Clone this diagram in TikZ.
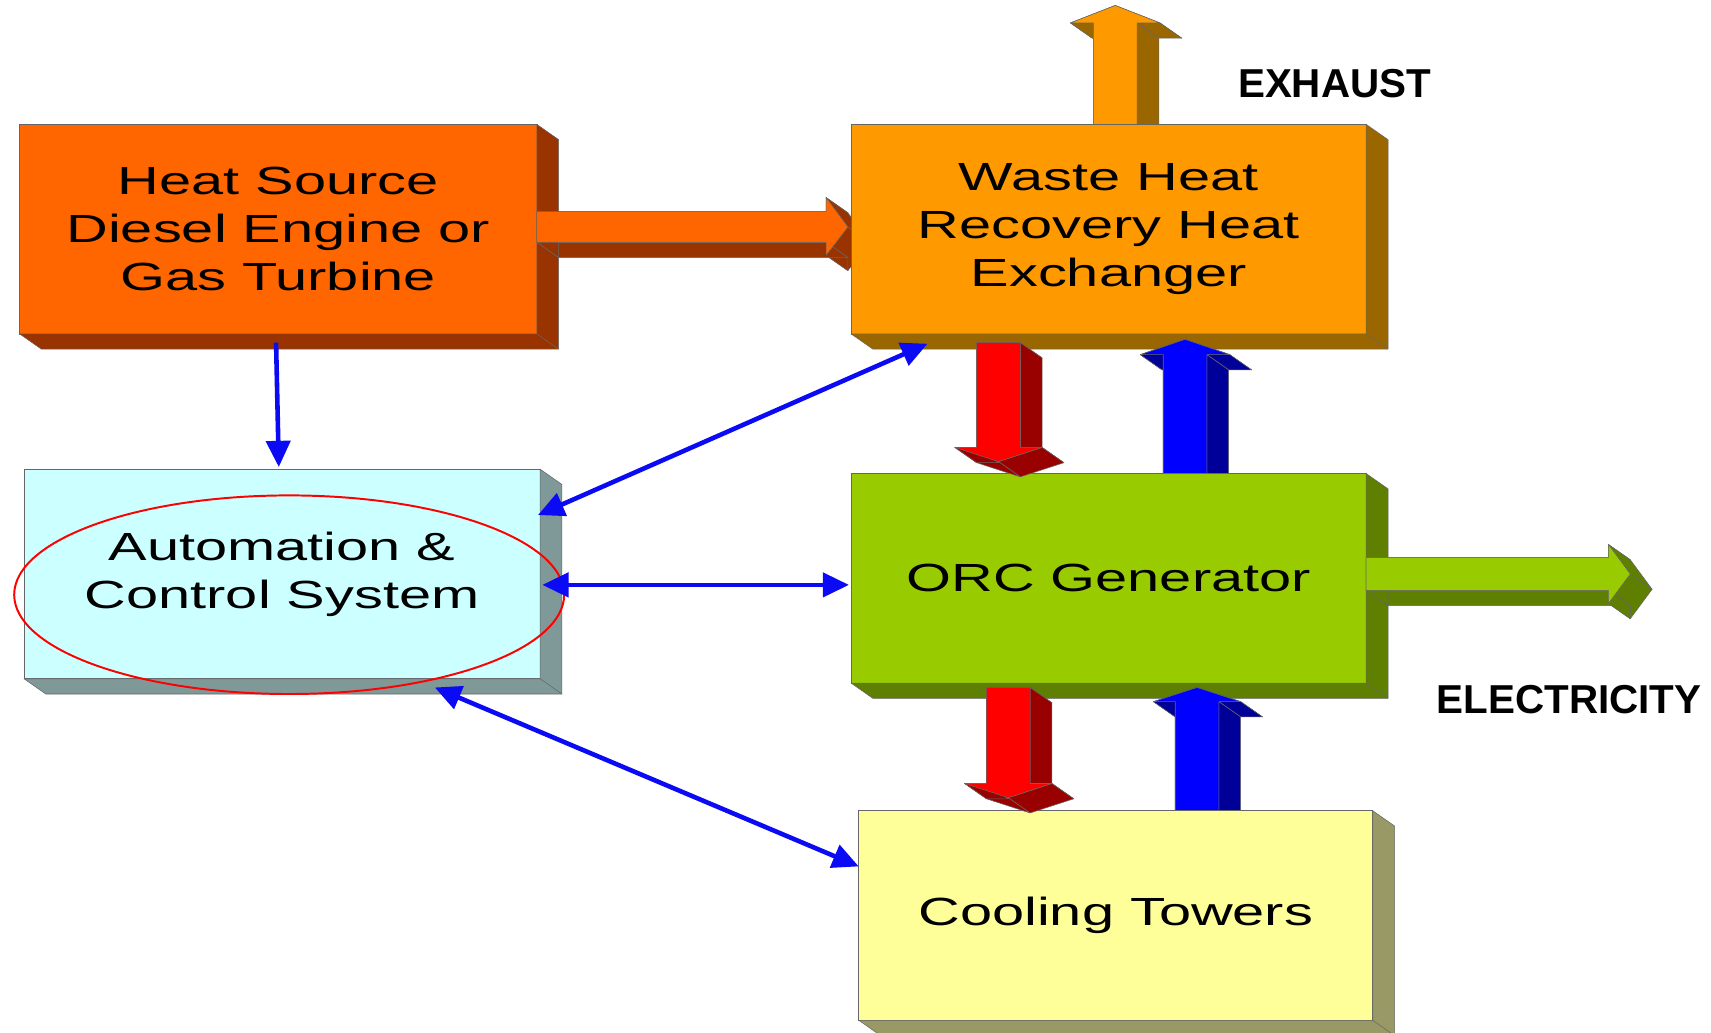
\documentclass[tikz,border=0pt]{standalone}
\usepackage{fontspec}
\usetikzlibrary{arrows.meta,shapes.geometric}
\newfontfamily\boxfont{Liberation Sans}[FakeStretch=1.47]
\newfontfamily\lblfont{Liberation Sans}
\definecolor{hsF}{HTML}{FF6600}\definecolor{hsS}{HTML}{993300}
\definecolor{whF}{HTML}{FF9900}\definecolor{whS}{HTML}{996600}
\definecolor{orF}{HTML}{99CC00}\definecolor{orS}{HTML}{5F7F00}
\definecolor{acF}{HTML}{CCFFFF}\definecolor{acS}{HTML}{7F9999}
\definecolor{ctF}{HTML}{FFFF99}\definecolor{ctS}{HTML}{999966}
\definecolor{rdF}{HTML}{FF0000}\definecolor{rdS}{HTML}{990000}
\definecolor{blF}{HTML}{0000FF}\definecolor{blS}{HTML}{000099}
\definecolor{ctl}{HTML}{0A0AF5}
\newcommand\extx{20}
\newcommand\exty{14}
% 3D extruded polygon: #1 front colour, #2 side colour, #3/#4 first point, #5 other points ending with first
\newcommand\prism[5]{%
  \foreach \x/\y [remember=\x as \lx (initially #3), remember=\y as \ly (initially #4)] in {#5} {
    \filldraw[fill=#2, draw=black!60, line width=0.5pt, line join=round]
      (\lx,\ly) -- (\x,\y) -- (\x+\extx,\y+\exty) -- (\lx+\extx,\ly+\exty) -- cycle;
  }
  \filldraw[fill=#1, draw=black!60, line width=0.5pt, line join=round]
    (#3,#4) \foreach \x/\y in {#5} { -- (\x,\y) } -- cycle;
}
% 3D faces of a box node
\newcommand\boxdepth[2]{%
  \filldraw[fill=#2, draw=black!60, line width=0.5pt, line join=round]
    (#1.north east) -- ++(\extx,\exty) -- ([shift={(\extx,\exty)}]#1.south east)
    -- ([shift={(\extx,\exty)}]#1.south west) -- (#1.south west) -- (#1.south east) -- cycle;
  \draw[black!60, line width=0.5pt] (#1.south east) -- ++(\extx,\exty);
}
\tikzset{
  box/.style={draw=black!60, line width=0.6pt, inner sep=0pt, outer sep=0pt,
    minimum height=192pt, align=center, text=black,
    font=\boxfont\fontsize{36}{44}\selectfont},
  ctlarrow/.style={ctl, line width=4.2pt, {Triangle[length=24pt,width=22pt]}-{Triangle[length=24pt,width=22pt]}},
  ctlone/.style={ctl, line width=4.2pt, -{Triangle[length=24pt,width=22pt]}},
  lbl/.style={inner sep=0pt, font=\lblfont\bfseries\fontsize{37}{40}\selectfont},
  highlight/.style={ellipse, draw=red, line width=1.8pt, inner sep=0pt}
}
\begin{document}
\begin{tikzpicture}[x=1pt,y=-1pt]
\fill[white] (0,0) rectangle (1568,946);
\useasboundingbox (0,0) rectangle (1568,946);

% Heat source
\node[box, fill=hsF, minimum width=474pt] (hs) at (255,210) {Heat Source\\Diesel Engine or\\Gas Turbine};
\boxdepth{hs}{hsS}

% orange arrow heat source -> waste heat
\prism{hsF}{hsS}{492}{194}{757/194, 757/181, 777/208, 757/234, 757/222, 492/222, 492/194}

% exhaust arrow
\prism{whF}{whS}{1002}{120}{1002/21, 981/21, 1022/5, 1063/21, 1042/21, 1042/120, 1002/120}

% Waste heat recovery
\node[box, fill=whF, minimum width=472pt] (wh) at (1016,210) {Waste Heat\\Recovery Heat\\Exchanger};
\boxdepth{wh}{whS}

% blue arrow ORC -> waste heat
\prism{blF}{blS}{1066}{445}{1066/325, 1045/325, 1086/311, 1127/325, 1106/325, 1106/445, 1066/445}

% ORC generator
\node[box, fill=orF, minimum width=472pt] (orc) at (1016,530) {ORC Generator};
\boxdepth{orc}{orS}

% red arrow waste heat -> ORC
\prism{rdF}{rdS}{895}{314}{935/314, 935/410, 955/410, 915/423, 875/410, 895/410, 895/314}

% green electricity arrow
\prism{orF}{orS}{1252}{511}{1474/511, 1474/499, 1494/526, 1474/553, 1474/541, 1252/541, 1252/511}

% blue arrow cooling -> ORC
\prism{blF}{blS}{1077}{755}{1077/643, 1057/643, 1097/630, 1137/643, 1117/643, 1117/755, 1077/755}

% Cooling towers
\node[box, fill=ctF, minimum width=471pt] (ct) at (1022.5,839) {Cooling Towers};
\boxdepth{ct}{ctS}

% red arrow ORC -> cooling
\prism{rdF}{rdS}{904}{630}{944/630, 944/718, 964/718, 924/731, 884/718, 904/718, 904/630}

% Automation & control
\node[box, fill=acF, minimum width=473pt] (ac) at (258.5,526) {Automation \&\\Control System};
\boxdepth{ac}{acS}

% highlight ellipse
\node[highlight, minimum width=504pt, minimum height=182pt] (hl) at (265,545) {};

% control connectors
\draw[ctlone] ([shift={(-2,8)}]hs.south) -- ([shift={(-3,-2)}]ac.north);
\draw[ctlarrow] ([shift={(-2,-54)}]ac.east) -- ([shift={(70,9)}]wh.south west);
\draw[ctlarrow] ([shift={(2,10)}]ac.east) -- ([shift={(-2,6)}]orc.west);
\draw[ctlarrow] ([shift={(140,8)}]ac.south) -- ([shift={(0,-45)}]ct.west);

% labels
\node[lbl] (exh) at (1223,77) {EXHAUST};
\node[lbl] (ele) at (1438,641) {ELECTRICITY};
\end{tikzpicture}
\end{document}
